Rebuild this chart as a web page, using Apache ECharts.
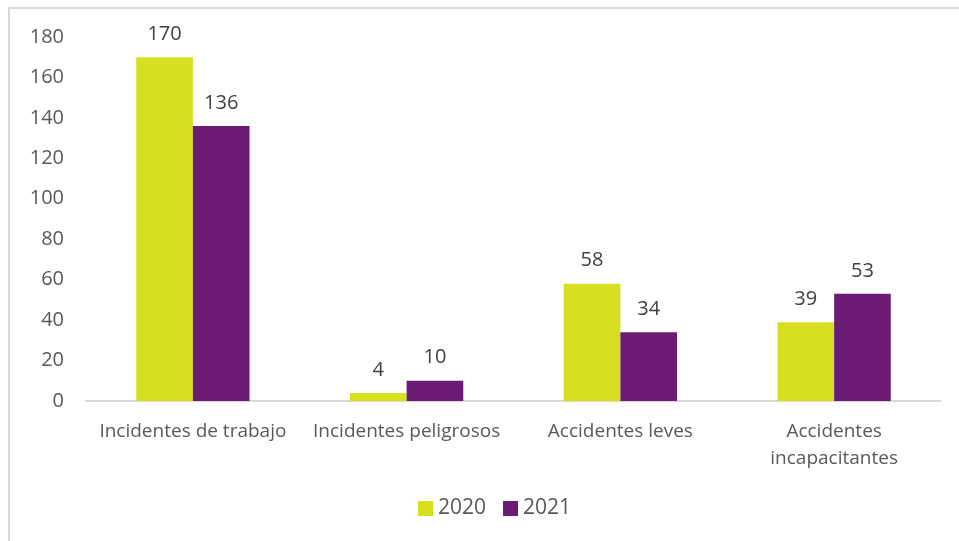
<!DOCTYPE html>
<html>
<head>
<meta charset="utf-8">
<script src="https://cdn.jsdelivr.net/npm/echarts@6/dist/echarts.min.js"></script>
<style>
  html, body { margin: 0; padding: 0; background: #fff; }
  #chart { width: 959px; height: 541px; }
</style>
</head>
<body>
<div id="chart"></div>
<script>
// Categories and yearly counts
const categories = ['Incidentes de trabajo', 'Incidentes peligrosos', 'Accidentes leves', 'Accidentes\nincapacitantes'];
const values2020 = [170, 4, 58, 39];
const values2021 = [136, 10, 34, 53];
const seriesNames = ['2020', '2021'];
const yTicks = { min: 0, max: 180, interval: 20 };

const FONT = '"Open Sans", "Noto Sans", sans-serif';
const chart = echarts.init(document.getElementById('chart'), null, { renderer: 'canvas' });

const labelStyle = {
  show: true,
  position: 'top',
  distance: 13,
  color: '#404040',
  fontSize: 20,
  fontFamily: FONT
};

chart.setOption({
  animation: false,
  backgroundColor: '#fff',
  graphic: [
    // outer frame (top and left edges visible)
    { type: 'rect', shape: { x: 9, y: 8, width: 1000, height: 600 },
      style: { fill: 'none', stroke: '#d9d9d9', lineWidth: 2 }, silent: true }
  ],
  grid: { left: 86, right: 18, top: 37, bottom: 140, containLabel: false },
  legend: {
    data: seriesNames,
    bottom: 17,
    left: 413,
    itemWidth: 15,
    itemHeight: 15,
    itemGap: 17,
    icon: 'rect',
    textStyle: { color: '#595959', fontSize: 21, fontFamily: FONT }
  },
  xAxis: {
    type: 'category',
    data: categories,
    axisLine: { lineStyle: { color: '#d9d9d9', width: 2 } },
    axisTick: { show: false },
    axisLabel: {
      color: '#595959', fontSize: 19, fontFamily: FONT, margin: 17, lineHeight: 27,
      interval: 0
    }
  },
  yAxis: {
    type: 'value',
    min: yTicks.min,
    max: yTicks.max,
    interval: yTicks.interval,
    axisLine: { show: false },
    axisTick: { show: false },
    splitLine: { show: false },
    axisLabel: { color: '#595959', fontSize: 20, fontFamily: FONT, margin: 22 }
  },
  series: [
    {
      name: seriesNames[0], type: 'bar', data: values2020,
      barGap: '0%', barCategoryGap: '47%',
      itemStyle: { color: '#d6e021' },
      label: labelStyle
    },
    {
      name: seriesNames[1], type: 'bar', data: values2021,
      itemStyle: { color: '#6b1b74' },
      label: labelStyle
    }
  ]
});
</script>
</body>
</html>
